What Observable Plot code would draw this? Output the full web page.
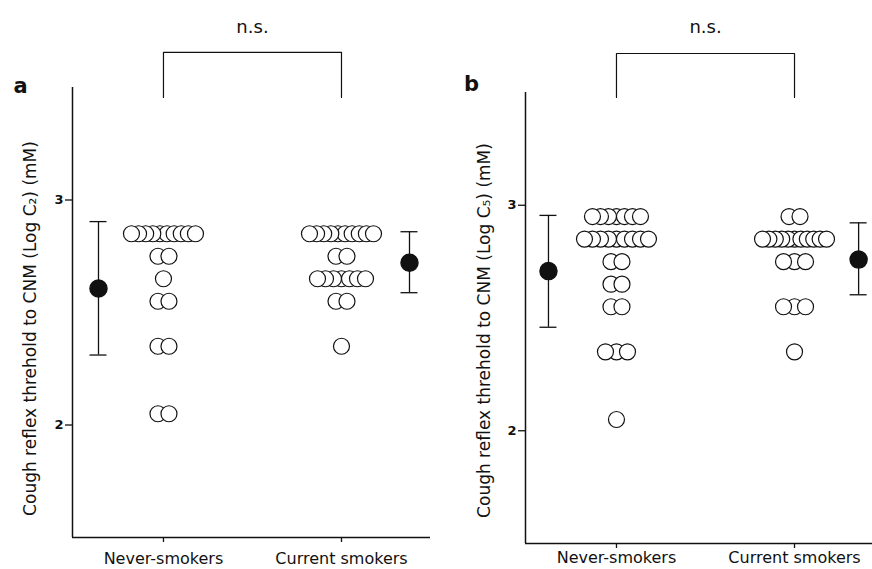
<!DOCTYPE html>
<html>
<head>
<meta charset="utf-8">
<script src="https://cdn.jsdelivr.net/npm/d3@7"></script>
<script src="https://cdn.jsdelivr.net/npm/@observablehq/plot@0.6"></script>
<style>
  html, body { margin: 0; padding: 0; background: #fff; }
  #wrap { display: flex; flex-direction: row; width: 872px; height: 569px; overflow: hidden; }
</style>
</head>
<body>
<div id="wrap"></div>
<script>
// ---- Data ----
const groups = ["Never-smokers", "Current smokers"];
const yTicks = [2, 3];

// Panel a: Log C2
const aNever   = [2.85,2.85,2.85,2.85,2.85,2.85,2.85,2.85,2.85,2.85, 2.75,2.75, 2.65, 2.55,2.55, 2.35,2.35, 2.05,2.05];
const aCurrent = [2.85,2.85,2.85,2.85,2.85,2.85,2.85,2.85,2.85,2.85, 2.75,2.75, 2.65,2.65,2.65,2.65,2.65,2.65,2.65, 2.55,2.55, 2.35];
const aMean = [2.607, 2.721];
const aLow  = [2.311, 2.588];
const aHigh = [2.904, 2.859];

// Panel b: Log C5
const bNever   = [2.95,2.95,2.95,2.95,2.95,2.95,2.95, 2.85,2.85,2.85,2.85,2.85,2.85,2.85,2.85,2.85, 2.75,2.75, 2.65,2.65, 2.55,2.55, 2.35,2.35,2.35, 2.05];
const bCurrent = [2.95,2.95, 2.85,2.85,2.85,2.85,2.85,2.85,2.85,2.85,2.85,2.85,2.85, 2.75,2.75,2.75, 2.55,2.55,2.55, 2.35];
const bMean = [2.708, 2.759];
const bLow  = [2.459, 2.603];
const bHigh = [2.955, 2.922];

const yLabels = ["Cough reflex threhold to CNM (Log C\u2082) (mM)", "Cough reflex threhold to CNM (Log C\u2085) (mM)"];
const panelLetters = ["a", "b"];
const sigText = "n.s.";

// ---- Layout helpers ----
const PX_PER_UNIT = 178; // x units are category positions 1, 2
function swarm(values, center) {
  const byVal = d3.group(values, v => v);
  const out = [];
  for (const [v, arr] of byVal) {
    const n = arr.length;
    let s = n <= 3 ? 11 : 8;
    if (n > 1) s = Math.min(s, 64 / (n - 1));
    arr.forEach((_, i) => {
      const off = (i - (n - 1) / 2) * s;
      out.push({x: center + off / PX_PER_UNIT, y: v, o: Math.abs(off)});
    });
  }
  out.sort((a, b) => a.o - b.o);
  return out;
}

function panel(cfg) {
  const pts = [...swarm(cfg.never, 1), ...swarm(cfg.current, 2)];
  const summary = [0, 1].map(i => ({
    x: (i + 1) + cfg.sumOffset[i],
    m: cfg.mean[i], lo: cfg.low[i], hi: cfg.high[i]
  }));
  const cap = 8.5 / PX_PER_UNIT;
  const bracket = [
    {x: 1, y: cfg.bracketY[0]}, {x: 1, y: cfg.bracketY[1]},
    {x: 2, y: cfg.bracketY[1]}, {x: 2, y: cfg.bracketY[0]}
  ];
  return Plot.plot({
    width: 436,
    height: 569,
    marginTop: cfg.mt,
    marginBottom: cfg.mb,
    marginLeft: cfg.ml,
    marginRight: cfg.mr,
    x: {type: "linear", domain: cfg.xDomain},
    y: {domain: [1.5, 3.5]},
    style: {fontFamily: "DejaVu Sans", fontSize: "16px", color: "#111", background: "#fff"},
    marks: [
      Plot.ruleX([cfg.xDomain[0]], {stroke: "#111", strokeWidth: 1.5}),
      Plot.ruleY([1.5], {stroke: "#111", strokeWidth: 1.5}),
      Plot.axisY(yTicks, {tickSize: 7, tickPadding: 2, tickFormat: d => String(d), fontSize: 13, fontWeight: "bold", label: null, strokeWidth: 1.3}),
      Plot.axisX([1, 2], {tickFormat: d => groups[d - 1], tickSize: 5, tickPadding: cfg.xPad, fontSize: 16, label: null, strokeWidth: 1.3}),
      // error bars
      Plot.ruleX(summary, {x: "x", y1: "lo", y2: "hi", stroke: "#111", strokeWidth: 1.3}),
      Plot.ruleY(summary, {y: "lo", x1: d => d.x - cap, x2: d => d.x + cap, stroke: "#111", strokeWidth: 1.3}),
      Plot.ruleY(summary, {y: "hi", x1: d => d.x - cap, x2: d => d.x + cap, stroke: "#111", strokeWidth: 1.3}),
      Plot.dot(summary, {x: "x", y: "m", r: 8.5, fill: "#111", stroke: "#111"}),
      // individual subjects
      Plot.dot(pts, {x: "x", y: "y", r: 8, fill: "#fff", stroke: "#111", strokeWidth: 1.2}),
      // significance bracket
      Plot.line(bracket, {x: "x", y: "y", stroke: "#111", strokeWidth: 1.2}),
      Plot.text([sigText], {x: 1.5, y: cfg.sigY, fontSize: 18}),
      // y-axis title
      Plot.text([cfg.ylabel], {frameAnchor: "left", textAnchor: "middle", lineAnchor: "middle", rotate: -90, dx: cfg.labelDx, dy: cfg.labelDy, fontSize: 17}),
      // panel letter
      Plot.text([cfg.letter], {frameAnchor: "top-left", textAnchor: "middle", lineAnchor: "middle", dx: cfg.letterDx, dy: cfg.letterDy, fontSize: 21, fontWeight: "bold"})
    ]
  });
}

const wrap = document.getElementById("wrap");
wrap.append(panel({
  never: aNever, current: aCurrent, mean: aMean, low: aLow, high: aHigh,
  sumOffset: [-0.365, 0.382],
  mt: 87, mb: 32, ml: 72, mr: 6, xDomain: [0.489, 2.5], xPad: 10,
  bracketY: [3.456, 3.656], sigY: 3.767,
  ylabel: yLabels[0], labelDx: -42, labelDy: 16,
  letter: panelLetters[0], letterDx: -52, letterDy: -1
}));
wrap.append(panel({
  never: bNever, current: bCurrent, mean: bMean, low: bLow, high: bHigh,
  sumOffset: [-0.382, 0.36],
  mt: 92, mb: 26, ml: 89, mr: 0, xDomain: [0.489, 2.438], xPad: 3,
  bracketY: [3.478, 3.673], sigY: 3.788,
  ylabel: yLabels[1], labelDx: -41, labelDy: 12.5,
  letter: panelLetters[1], letterDx: -54, letterDy: -8
}));
</script>
</body>
</html>
